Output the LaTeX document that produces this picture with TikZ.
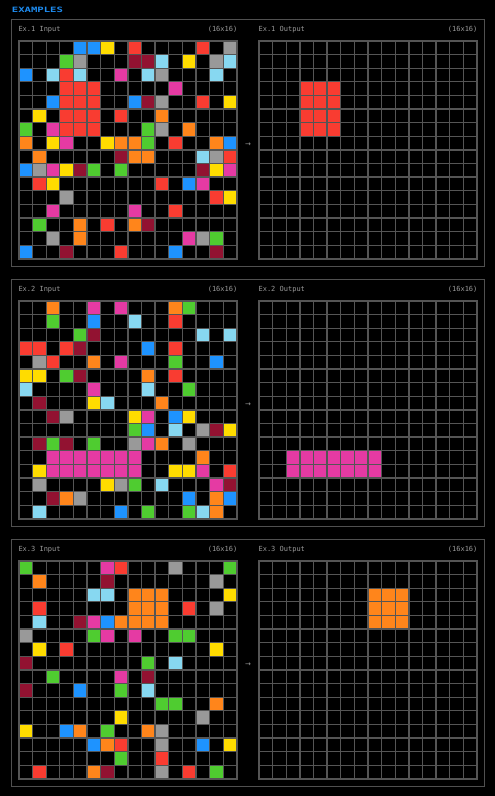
\documentclass[tikz,border=0pt]{standalone}
\usepackage{fontspec}
\setmonofont{DejaVu Sans Mono}
\newfontfamily\arrowfont{DejaVu Sans}
\definecolor{arc0}{HTML}{000000}
\definecolor{arc1}{HTML}{1E93FF}
\definecolor{arc2}{HTML}{F93C31}
\definecolor{arc3}{HTML}{4FCC30}
\definecolor{arc4}{HTML}{FFDC00}
\definecolor{arc5}{HTML}{999999}
\definecolor{arc6}{HTML}{E53AA3}
\definecolor{arc7}{HTML}{FF851B}
\definecolor{arc8}{HTML}{87D8F1}
\definecolor{arc9}{HTML}{921231}
\definecolor{gridline}{HTML}{555555}
\definecolor{panelline}{HTML}{505050}
\definecolor{lblgray}{HTML}{9A9A9A}
\definecolor{titleblue}{HTML}{1E8CF0}
\tikzset{
  panelbox/.style={draw=panelline, line width=1pt},
  lbl/.style={text=lblgray, font=\ttfamily\fontsize{7}{8}\selectfont, inner sep=0pt},
  titletext/.style={text=titleblue, font=\ttfamily\bfseries\fontsize{7.3}{8}\selectfont, inner sep=0pt, xscale=1.45},
  arrowtext/.style={text=lblgray, font=\arrowfont\fontsize{7}{8}\selectfont, inner sep=0pt}
}
\newcommand\arcgrid[3]{%
  \fill[gridline] (#1,#2) rectangle ++(219.2,219.2);
  \foreach \row [count=\j from 0] in {#3} {
    \foreach \c [count=\i from 0] in \row {
      \fill[fill=arc\c] ({#1+1.3+\i*13.619},{#2+1.3+\j*13.619}) rectangle ++(12.32,12.32);
    }
  }
}
\newcommand\blankgrid[2]{%
  \fill[gridline] (#1,#2) rectangle ++(219.2,219.2);
  \foreach \j in {0,...,15} {
    \foreach \i in {0,...,15} {
      \fill[fill=arc0] ({#1+1.3+\i*13.619},{#2+1.3+\j*13.619}) rectangle ++(12.32,12.32);
    }
  }
}
\newcommand\gcell[5]{%
  \fill[fill=#5] ({#1+1.3+#3*13.619},{#2+1.3+#4*13.619}) rectangle ++(12.32,12.32);
}
\begin{document}
\begin{tikzpicture}[x=1pt,y=-1pt]
\useasboundingbox (0,0) rectangle (495,796);
\fill[black] (0,0) rectangle (495,796);

\node[titletext, anchor=base west] (title) at (11.7,12) {EXAMPLES};

% panels
\foreach \k in {0,1,2} {
  \draw[panelbox] (11.7,{19.3+260*\k}) rectangle (484.3,{266.3+260*\k});
}

% labels
\node[lbl, anchor=base west] (in1) at (18.3,31.5) {Ex.1 Input};
\node[lbl, anchor=base east] (in1s) at (237.5,31.5) {(16x16)};
\node[lbl, anchor=base west] (out1) at (258.4,31.5) {Ex.1 Output};
\node[lbl, anchor=base east] (out1s) at (477.6,31.5) {(16x16)};
\node[lbl, anchor=base west] (in2) at (18.3,291.5) {Ex.2 Input};
\node[lbl, anchor=base east] (in2s) at (237.5,291.5) {(16x16)};
\node[lbl, anchor=base west] (out2) at (258.4,291.5) {Ex.2 Output};
\node[lbl, anchor=base east] (out2s) at (477.6,291.5) {(16x16)};
\node[lbl, anchor=base west] (in3) at (18.3,551.5) {Ex.3 Input};
\node[lbl, anchor=base east] (in3s) at (237.5,551.5) {(16x16)};
\node[lbl, anchor=base west] (out3) at (258.4,551.5) {Ex.3 Output};
\node[lbl, anchor=base east] (out3s) at (477.6,551.5) {(16x16)};

\node[arrowtext] (arr1) at (248,144.3) {→};
\node[arrowtext] (arr2) at (248,404.3) {→};
\node[arrowtext] (arr3) at (248,664.3) {→};

% Example 1 input
\arcgrid{18.3}{40.3}{
{0,0,0,0,1,1,4,0,2,0,0,0,0,2,0,5},
{0,0,0,3,5,0,0,0,9,9,8,0,4,0,5,8},
{1,0,8,2,8,0,0,6,0,8,5,0,0,0,8,0},
{0,0,0,2,2,2,0,0,0,0,0,6,0,0,0,0},
{0,0,1,2,2,2,0,0,1,9,5,0,0,2,0,4},
{0,4,0,2,2,2,0,2,0,0,7,0,0,0,0,0},
{3,0,6,2,2,2,0,0,0,3,5,0,7,0,0,0},
{7,0,4,6,0,0,4,7,7,3,0,2,0,0,7,1},
{0,7,0,0,0,0,0,9,7,7,0,0,0,8,5,2},
{1,5,6,4,9,3,0,3,0,0,0,0,0,9,4,6},
{0,2,4,0,0,0,0,0,0,0,2,0,1,6,0,0},
{0,0,0,5,0,0,0,0,0,0,0,0,0,0,2,4},
{0,0,6,0,0,0,0,0,6,0,0,2,0,0,0,0},
{0,3,0,0,7,0,2,0,7,9,0,0,0,0,0,0},
{0,0,5,0,7,0,0,0,0,0,0,0,6,5,3,0},
{1,0,0,9,0,0,0,2,0,0,0,1,0,0,9,0}}

% Example 1 output
\blankgrid{258.4}{40.3}
\foreach \i in {3,4,5} { \foreach \j in {3,4,5,6} { \gcell{258.4}{40.3}{\i}{\j}{arc2} } }

% Example 2 input
\arcgrid{18.3}{300.3}{
{0,0,7,0,0,6,0,6,0,0,0,7,3,0,0,0},
{0,0,3,0,0,1,0,0,8,0,0,2,0,0,0,0},
{0,0,0,0,3,9,0,0,0,0,0,0,0,8,0,8},
{2,2,0,2,9,0,0,0,0,1,0,2,0,0,0,0},
{0,5,2,0,0,7,0,6,0,0,0,3,0,0,1,0},
{4,4,0,3,9,0,0,0,0,7,0,2,0,0,0,0},
{8,0,0,0,0,6,0,0,0,8,0,0,3,0,0,0},
{0,9,0,0,0,4,8,0,0,0,7,0,0,0,0,0},
{0,0,9,5,0,0,0,0,4,6,0,1,4,0,0,0},
{0,0,0,0,0,0,0,0,3,1,0,8,0,5,9,4},
{0,9,3,9,0,3,0,0,5,6,7,0,5,0,0,0},
{0,0,6,6,6,6,6,6,6,0,0,0,0,7,0,0},
{0,4,6,6,6,6,6,6,6,0,0,4,4,6,0,2},
{0,5,0,0,0,0,4,5,3,0,8,0,0,0,6,9},
{0,0,9,7,5,0,0,0,0,0,0,0,1,0,7,1},
{0,8,0,0,0,0,0,1,0,3,0,0,3,8,7,0}}

% Example 2 output
\blankgrid{258.4}{300.3}
\foreach \i in {2,...,8} { \foreach \j in {11,12} { \gcell{258.4}{300.3}{\i}{\j}{arc6} } }

% Example 3 input
\arcgrid{18.3}{560.3}{
{3,0,0,0,0,0,6,2,0,0,0,5,0,0,0,3},
{0,7,0,0,0,0,9,0,0,0,0,0,0,0,5,0},
{0,0,0,0,0,8,8,0,7,7,7,0,0,0,0,4},
{0,2,0,0,0,0,0,0,7,7,7,0,2,0,5,0},
{0,8,0,0,9,6,1,7,7,7,7,0,0,0,0,0},
{5,0,0,0,0,3,6,0,6,0,0,3,3,0,0,0},
{0,4,0,2,0,0,0,0,0,0,0,0,0,0,4,0},
{9,0,0,0,0,0,0,0,0,3,0,8,0,0,0,0},
{0,0,3,0,0,0,0,6,0,9,0,0,0,0,0,0},
{9,0,0,0,1,0,0,3,0,8,0,0,0,0,0,0},
{0,0,0,0,0,0,0,0,0,0,3,3,0,0,7,0},
{0,0,0,0,0,0,0,4,0,0,0,0,0,5,0,0},
{4,0,0,1,7,0,3,0,0,7,5,0,0,0,0,0},
{0,0,0,0,0,1,7,2,0,0,5,0,0,1,0,4},
{0,0,0,0,0,0,0,3,0,0,2,0,0,0,0,0},
{0,2,0,0,0,7,9,0,0,0,5,0,2,0,3,0}}

% Example 3 output
\blankgrid{258.4}{560.3}
\foreach \i in {8,9,10} { \foreach \j in {2,3,4} { \gcell{258.4}{560.3}{\i}{\j}{arc7} } }

\end{tikzpicture}
\end{document}
